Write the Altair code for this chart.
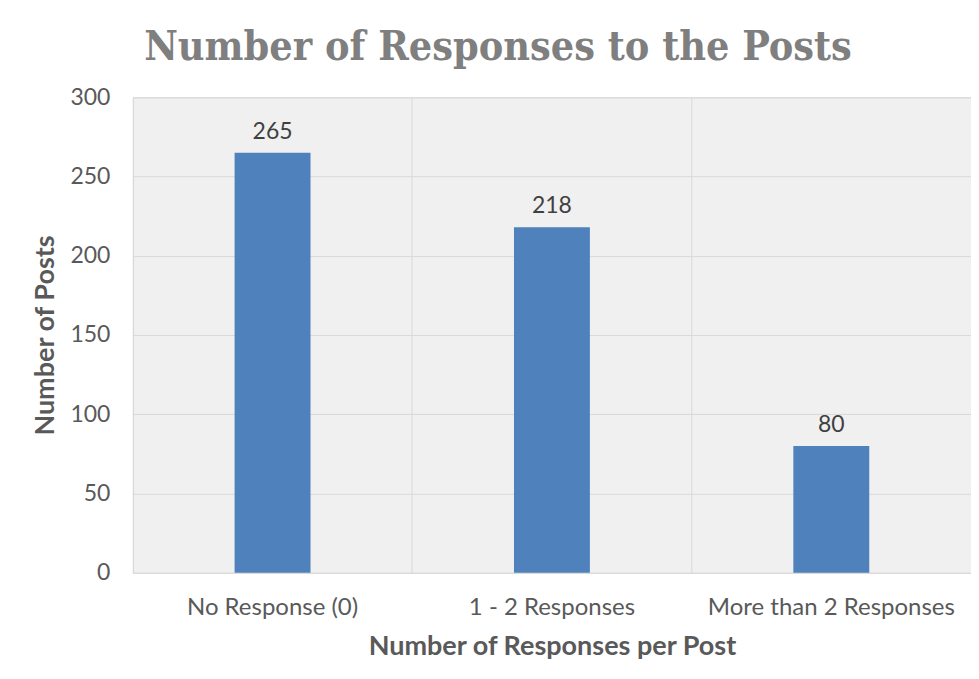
import altair as alt
import pandas as pd

categories = ["No Response (0)", "1 - 2 Responses", "More than 2 Responses"]
posts = [265, 218, 80]

df = pd.DataFrame({"cat": categories, "posts": posts})

FONT = "Lato"
GRAY = "#595959"

base = alt.Chart(df).encode(
    x=alt.X("cat:N", sort=categories,
            scale=alt.Scale(paddingInner=0, paddingOuter=0),
            axis=alt.Axis(title="Number of Responses per Post", labelAngle=0,
                          bandPosition=0, grid=True, gridColor="#d9d9d9",
                          domain=False, ticks=False, labelPadding=23, labelLimit=0,
                          labelFontSize=24, labelColor=GRAY, labelFont=FONT,
                          titleFont=FONT, titleFontSize=27, titleColor=GRAY,
                          titleFontWeight="bold", titlePadding=14)),
    y=alt.Y("posts:Q", scale=alt.Scale(domain=[0, 300]),
            axis=alt.Axis(title="Number of Posts", values=[0, 50, 100, 150, 200, 250, 300],
                          grid=True, gridColor="#d9d9d9", domain=False, ticks=False,
                          labelPadding=23, labelFontSize=23, labelColor=GRAY,
                          labelFont=FONT, titleFont=FONT, titleFontSize=27,
                          titleColor=GRAY, titleFontWeight="bold", titlePadding=10)),
)

bars = base.mark_bar(size=76, color="#4f81bd")
labels = base.mark_text(baseline="bottom", dy=-9, fontSize=23, font=FONT,
                        color="#404040").encode(text="posts:Q")

chart = (bars + labels).properties(
    width=839, height=476,
    title=alt.TitleParams("Number of Responses to the Posts",
                          font="DejaVu Serif Condensed, Liberation Serif",
                          fontSize=41, fontWeight="bold", color="#7f7f7f",
                          anchor="middle", dx=-54, offset=17),
    autosize=alt.AutoSizeParams(type="none"),
    padding={"left": 125, "top": 89, "right": 0, "bottom": 98},
).configure_view(fill="#f0f0f0", stroke="#d9d9d9")

chart.save("out.html", embed_options={"renderer": "svg", "actions": False})
